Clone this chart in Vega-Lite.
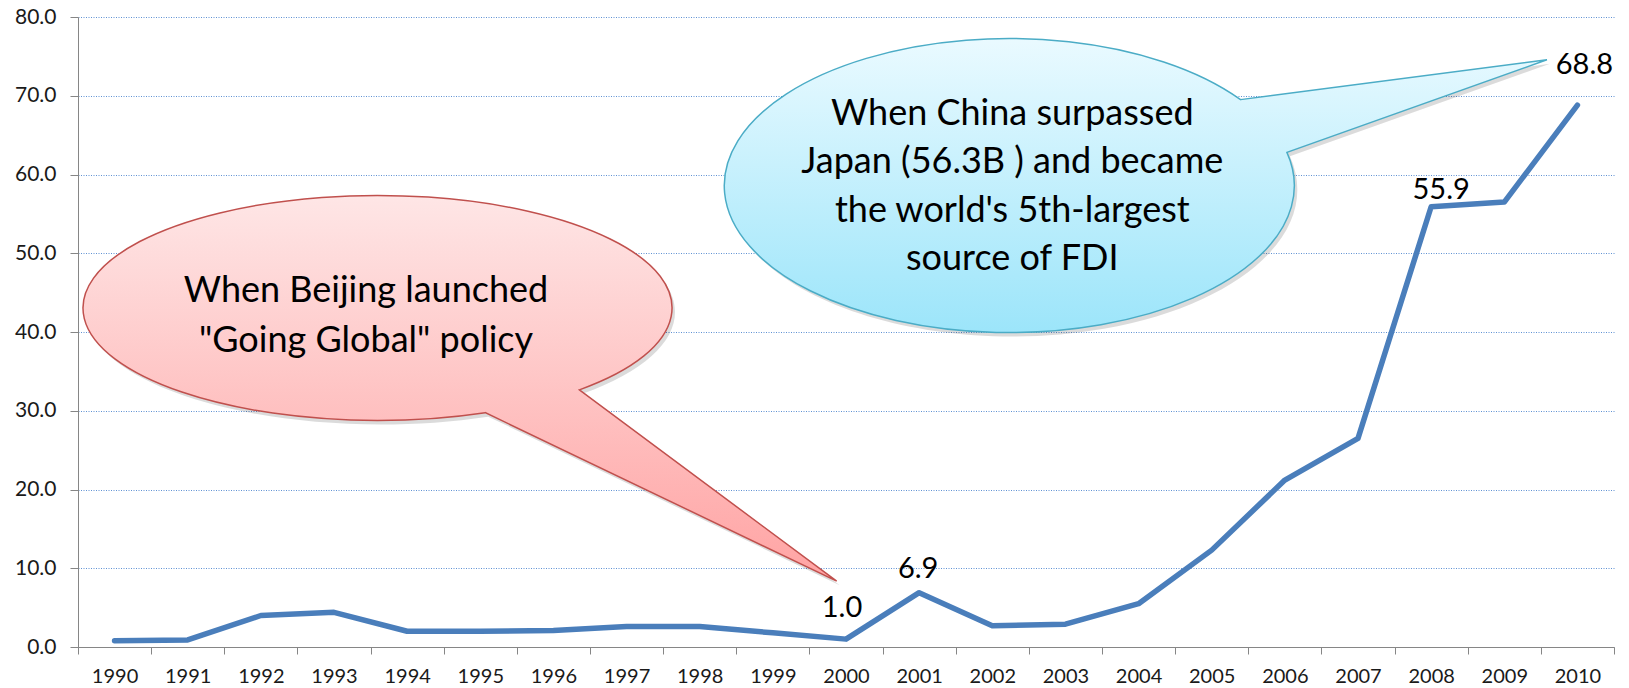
{
  "$schema": "https://vega.github.io/schema/vega-lite/v6.json",
  "width": 1536,
  "height": 630,
  "autosize": {"type": "none"},
  "padding": {"left": 78, "top": 17, "right": 15, "bottom": 41},
  "background": "white",
  "config": {"view": {"stroke": null}, "font": "Lato"},
  "datasets": {
    "fdi": [
      {"year": "1990", "value": 0.8},
      {"year": "1991", "value": 0.9},
      {"year": "1992", "value": 4.0},
      {"year": "1993", "value": 4.4},
      {"year": "1994", "value": 2.0},
      {"year": "1995", "value": 2.0},
      {"year": "1996", "value": 2.1},
      {"year": "1997", "value": 2.6},
      {"year": "1998", "value": 2.6},
      {"year": "1999", "value": 1.8},
      {"year": "2000", "value": 1.0},
      {"year": "2001", "value": 6.9},
      {"year": "2002", "value": 2.7},
      {"year": "2003", "value": 2.9},
      {"year": "2004", "value": 5.5},
      {"year": "2005", "value": 12.3},
      {"year": "2006", "value": 21.2},
      {"year": "2007", "value": 26.5},
      {"year": "2008", "value": 55.9},
      {"year": "2009", "value": 56.5},
      {"year": "2010", "value": 68.8}
    ],
    "bubbles": [
      {"id": "pink", "year": "2000", "value": 8.4},
      {"id": "blue", "year": "2010", "value": 74.6}
    ],
    "notes": [
      {"id": "pink", "year": "1993", "value": 45.2, "text": "When Beijing launched\n\"Going Global\" policy"},
      {"id": "blue", "year": "2002", "value": 67.7, "text": "When China surpassed\nJapan (56.3B ) and became\nthe world's 5th-largest\nsource of FDI"}
    ]
  },
  "encoding": {
    "x": {
      "field": "year",
      "type": "ordinal",
      "scale": {
        "type": "band",
        "domain": ["1990","1991","1992","1993","1994","1995","1996","1997","1998","1999","2000","2001","2002","2003","2004","2005","2006","2007","2008","2009","2010"],
        "paddingInner": 0,
        "paddingOuter": 0
      },
      "axis": {
        "title": null,
        "labelAngle": 0,
        "tickBand": "extent",
        "tickSize": 7,
        "labelPadding": 12,
        "labelFontSize": 20,
        "labelFont": "Lato",
        "labelColor": "#1a1a1a",
        "domainColor": "#868686",
        "tickColor": "#868686",
        "grid": false
      }
    },
    "y": {
      "field": "value",
      "type": "quantitative",
      "scale": {"domain": [0, 80], "nice": false},
      "axis": {
        "title": null,
        "values": [0, 10, 20, 30, 40, 50, 60, 70, 80],
        "format": ".1f",
        "tickSize": 8,
        "labelPadding": 14,
        "labelFontSize": 21,
        "labelFont": "Lato",
        "labelColor": "#1a1a1a",
        "domainColor": "#868686",
        "tickColor": "#868686",
        "grid": true,
        "gridColor": "#5f91d3",
        "gridDash": [1, 1.5],
        "gridWidth": 1
      }
    }
  },
  "layer": [
    {
      "data": {"name": "bubbles"},
      "transform": [{"filter": "datum.id === 'pink'"}],
      "mark": {
        "type": "point",
        "shape": "M-266.6,-191 L-9.3,0.3 L-360.8,-168.2 A294.5,112.5 0 1 1 -266.6,-191 Z",
        "size": 4,
        "filled": true,
        "fill": "#000000",
        "opacity": 0.14,
        "strokeWidth": 0,
        "xOffset": 3,
        "yOffset": 4
      }
    },
    {
      "data": {"name": "bubbles"},
      "transform": [{"filter": "datum.id === 'pink'"}],
      "mark": {
        "type": "point",
        "shape": "M-266.6,-191 L-9.3,0.3 L-360.8,-168.2 A294.5,112.5 0 1 1 -266.6,-191 Z",
        "size": 4,
        "filled": true,
        "opacity": 1,
        "fill": {
          "gradient": "linear",
          "x1": 0, "y1": 0, "x2": 0, "y2": 1,
          "stops": [
            {"offset": 0, "color": "#fee6e6"},
            {"offset": 1, "color": "#ffa3a3"}
          ]
        },
        "stroke": "#c0504d",
        "strokeWidth": 1.5
      }
    },
    {
      "data": {"name": "bubbles"},
      "transform": [{"filter": "datum.id === 'blue'"}],
      "mark": {
        "type": "point",
        "shape": "M-336.9,40.1 L-30.5,0.3 L-290.5,92.8 A285,147 0 1 1 -336.9,40.1 Z",
        "size": 4,
        "filled": true,
        "fill": "#000000",
        "opacity": 0.14,
        "strokeWidth": 0,
        "xOffset": 3,
        "yOffset": 4
      }
    },
    {
      "data": {"name": "bubbles"},
      "transform": [{"filter": "datum.id === 'blue'"}],
      "mark": {
        "type": "point",
        "shape": "M-336.9,40.1 L-30.5,0.3 L-290.5,92.8 A285,147 0 1 1 -336.9,40.1 Z",
        "size": 4,
        "filled": true,
        "opacity": 1,
        "fill": {
          "gradient": "linear",
          "x1": 0, "y1": 0, "x2": 0, "y2": 1,
          "stops": [
            {"offset": 0, "color": "#eafaff"},
            {"offset": 1, "color": "#9ce5fa"}
          ]
        },
        "stroke": "#4bacc6",
        "strokeWidth": 1.5
      }
    },
    {
      "data": {"name": "fdi"},
      "mark": {
        "type": "line",
        "color": "#4a7ebb",
        "strokeWidth": 5.5,
        "strokeCap": "round",
        "strokeJoin": "round"
      }
    },
    {
      "data": {"name": "notes"},
      "transform": [{"filter": "datum.id === 'pink'"}],
      "mark": {
        "type": "text",
        "font": "Lato",
        "fontSize": 36,
        "lineBreak": "\n",
        "lineHeight": 50,
        "align": "center",
        "baseline": "middle",
        "dx": 32,
        "color": "#000000"
      },
      "encoding": {"text": {"field": "text"}}
    },
    {
      "data": {"name": "notes"},
      "transform": [{"filter": "datum.id === 'blue'"}],
      "mark": {
        "type": "text",
        "font": "Lato",
        "fontSize": 36,
        "lineBreak": "\n",
        "lineHeight": 48.5,
        "align": "center",
        "baseline": "middle",
        "dx": 20,
        "color": "#000000"
      },
      "encoding": {"text": {"field": "text"}}
    },
    {
      "data": {"name": "fdi"},
      "transform": [{"filter": "datum.year === '2000'"}],
      "mark": {"type": "text", "font": "Lato", "fontSize": 29, "align": "center", "baseline": "middle", "dx": -4, "dy": -31, "color": "#000000"},
      "encoding": {"text": {"field": "value", "type": "quantitative", "format": ".1f"}}
    },
    {
      "data": {"name": "fdi"},
      "transform": [{"filter": "datum.year === '2001'"}],
      "mark": {"type": "text", "font": "Lato", "fontSize": 29, "align": "center", "baseline": "middle", "dx": -1, "dy": -24, "color": "#000000"},
      "encoding": {"text": {"field": "value", "type": "quantitative", "format": ".1f"}}
    },
    {
      "data": {"name": "fdi"},
      "transform": [{"filter": "datum.year === '2008'"}],
      "mark": {"type": "text", "font": "Lato", "fontSize": 29, "align": "center", "baseline": "middle", "dx": 10, "dy": -17, "color": "#000000"},
      "encoding": {"text": {"field": "value", "type": "quantitative", "format": ".1f"}}
    },
    {
      "data": {"name": "fdi"},
      "transform": [{"filter": "datum.year === '2010'"}],
      "mark": {"type": "text", "font": "Lato", "fontSize": 29, "align": "center", "baseline": "middle", "dx": 7, "dy": -40, "color": "#000000"},
      "encoding": {"text": {"field": "value", "type": "quantitative", "format": ".1f"}}
    }
  ]
}
